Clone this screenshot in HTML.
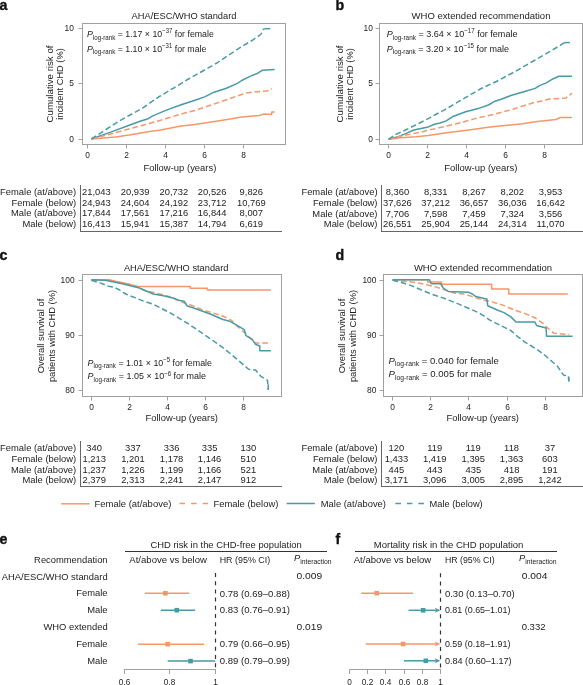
<!DOCTYPE html>
<html><head><meta charset="utf-8"><style>
html,body{margin:0;padding:0;background:#fff;}
svg{display:block;will-change:transform;font-family:"Liberation Sans", sans-serif;}
</style></head><body>
<svg width="583" height="685" viewBox="0 0 583 685">
<rect width="583" height="685" fill="#fff"/>
<text x="-0.60" y="10.00" font-size="14.2" text-anchor="start" fill="#111" font-weight="bold" stroke="#111" stroke-width="0.35">a</text>
<text x="335.50" y="10.00" font-size="14.2" text-anchor="start" fill="#111" font-weight="bold" stroke="#111" stroke-width="0.35">b</text>
<text x="-0.50" y="259.50" font-size="14.2" text-anchor="start" fill="#111" font-weight="bold" stroke="#111" stroke-width="0.35">c</text>
<text x="335.50" y="259.80" font-size="14.2" text-anchor="start" fill="#111" font-weight="bold" stroke="#111" stroke-width="0.35">d</text>
<text x="-0.50" y="543.60" font-size="14.2" text-anchor="start" fill="#111" font-weight="bold" stroke="#111" stroke-width="0.35">e</text>
<text x="335.50" y="543.60" font-size="14.2" text-anchor="start" fill="#111" font-weight="bold" stroke="#111" stroke-width="0.35">f</text>
<rect x="82.5" y="23.5" width="203" height="121" fill="none" stroke="#a0a0a0" stroke-width="1"/>
<text x="184.00" y="18.80" font-size="9.4" text-anchor="middle" fill="#222222" textLength="104.80" lengthAdjust="spacingAndGlyphs">AHA/ESC/WHO standard</text>
<line x1="87.50" y1="144.50" x2="87.50" y2="148.50" stroke="#a0a0a0" stroke-width="1"/>
<text x="87.50" y="157.80" font-size="8.4" text-anchor="middle" fill="#222222">0</text>
<line x1="126.50" y1="144.50" x2="126.50" y2="148.50" stroke="#a0a0a0" stroke-width="1"/>
<text x="126.50" y="157.80" font-size="8.4" text-anchor="middle" fill="#222222">2</text>
<line x1="165.50" y1="144.50" x2="165.50" y2="148.50" stroke="#a0a0a0" stroke-width="1"/>
<text x="165.50" y="157.80" font-size="8.4" text-anchor="middle" fill="#222222">4</text>
<line x1="204.50" y1="144.50" x2="204.50" y2="148.50" stroke="#a0a0a0" stroke-width="1"/>
<text x="204.50" y="157.80" font-size="8.4" text-anchor="middle" fill="#222222">6</text>
<line x1="243.50" y1="144.50" x2="243.50" y2="148.50" stroke="#a0a0a0" stroke-width="1"/>
<text x="243.50" y="157.80" font-size="8.4" text-anchor="middle" fill="#222222">8</text>
<line x1="78.50" y1="139.50" x2="82.50" y2="139.50" stroke="#a0a0a0" stroke-width="1"/>
<text x="73.90" y="141.60" font-size="8.4" text-anchor="end" fill="#222222">0</text>
<line x1="78.50" y1="83.50" x2="82.50" y2="83.50" stroke="#a0a0a0" stroke-width="1"/>
<text x="73.90" y="85.60" font-size="8.4" text-anchor="end" fill="#222222">5</text>
<line x1="78.50" y1="28.50" x2="82.50" y2="28.50" stroke="#a0a0a0" stroke-width="1"/>
<text x="73.90" y="30.60" font-size="8.4" text-anchor="end" fill="#222222">10</text>
<text x="179.90" y="171.00" font-size="9.4" text-anchor="middle" fill="#222222" textLength="73.00" lengthAdjust="spacingAndGlyphs">Follow-up (years)</text>
<text x="0" y="0" font-size="9.4" text-anchor="middle" fill="#222222" transform="translate(53.30,84.00) rotate(-90)" textLength="77.00" lengthAdjust="spacingAndGlyphs">Cumulative risk of</text>
<text x="0" y="0" font-size="9.4" text-anchor="middle" fill="#222222" transform="translate(63.30,84.00) rotate(-90)" textLength="71.50" lengthAdjust="spacingAndGlyphs">incident CHD (%)</text>
<polyline points="91.4,139.0 112.7,131.4 129.2,125.3 140.0,121.2 148.2,118.7 152.3,116.1 165.7,110.4 181.2,104.8 195.0,100.2 205.2,96.6 214.0,92.2 225.7,88.5 237.4,83.4 241.7,80.5 250.5,76.1 257.8,73.2 262.2,70.3 274.6,69.5" fill="none" stroke="#489aa5" stroke-width="1.5" stroke-linejoin="round"/>
<polyline points="91.4,139.0 115.4,136.9 129.2,134.9 149.7,131.4 160.6,130.0 181.2,125.9 195.0,124.6 224.2,119.9 241.7,117.0 259.3,115.5 263.6,114.1 271.7,114.4 271.7,111.9 274.6,111.9" fill="none" stroke="#f5976b" stroke-width="1.5" stroke-linejoin="round"/>
<polyline points="91.4,139.0 110.0,134.2 122.3,130.8 140.0,125.9 160.6,120.2 181.2,114.0 195.0,110.4 216.9,103.1 231.5,98.0 246.1,92.9 260.7,91.5 269.5,90.7 271.7,88.5" fill="none" stroke="#f5976b" stroke-width="1.5" stroke-linejoin="round" stroke-dasharray="5.6 2.9"/>
<polyline points="91.4,139.0 119.3,120.9 142.1,108.4 158.5,97.0 174.0,87.8 188.4,79.0 195.0,75.4 216.9,63.0 238.8,48.4 253.4,39.6 260.7,34.5 263.6,29.4 264.5,28.7" fill="none" stroke="#489aa5" stroke-width="1.5" stroke-linejoin="round" stroke-dasharray="5.6 2.9"/>
<polyline points="264.5,28.7 270.2,28.7" fill="none" stroke="#489aa5" stroke-width="1.5" stroke-linejoin="round"/>
<text x="87.10" y="37.00" font-size="9.4" fill="#222222" textLength="126.70" lengthAdjust="spacingAndGlyphs"><tspan font-style="italic">P</tspan><tspan font-size="6.6" dy="2.6">log-rank</tspan><tspan dy="-2.6"> = 1.17 × 10</tspan><tspan font-size="6.4" dy="-3.6">−37</tspan><tspan dy="3.6"> for female</tspan></text>
<text x="87.10" y="51.60" font-size="9.4" fill="#222222" textLength="119.30" lengthAdjust="spacingAndGlyphs"><tspan font-style="italic">P</tspan><tspan font-size="6.6" dy="2.6">log-rank</tspan><tspan dy="-2.6"> = 1.10 × 10</tspan><tspan font-size="6.4" dy="-3.6">−31</tspan><tspan dy="3.6"> for male</tspan></text>
<rect x="379.5" y="23.5" width="203" height="121" fill="none" stroke="#a0a0a0" stroke-width="1"/>
<text x="481.00" y="18.70" font-size="9.4" text-anchor="middle" fill="#222222" textLength="138.90" lengthAdjust="spacingAndGlyphs">WHO extended recommendation</text>
<line x1="388.50" y1="144.50" x2="388.50" y2="148.50" stroke="#a0a0a0" stroke-width="1"/>
<text x="388.50" y="157.80" font-size="8.4" text-anchor="middle" fill="#222222">0</text>
<line x1="427.50" y1="144.50" x2="427.50" y2="148.50" stroke="#a0a0a0" stroke-width="1"/>
<text x="427.50" y="157.80" font-size="8.4" text-anchor="middle" fill="#222222">2</text>
<line x1="466.50" y1="144.50" x2="466.50" y2="148.50" stroke="#a0a0a0" stroke-width="1"/>
<text x="466.50" y="157.80" font-size="8.4" text-anchor="middle" fill="#222222">4</text>
<line x1="505.50" y1="144.50" x2="505.50" y2="148.50" stroke="#a0a0a0" stroke-width="1"/>
<text x="505.50" y="157.80" font-size="8.4" text-anchor="middle" fill="#222222">6</text>
<line x1="544.50" y1="144.50" x2="544.50" y2="148.50" stroke="#a0a0a0" stroke-width="1"/>
<text x="544.50" y="157.80" font-size="8.4" text-anchor="middle" fill="#222222">8</text>
<line x1="375.50" y1="139.50" x2="379.50" y2="139.50" stroke="#a0a0a0" stroke-width="1"/>
<text x="372.90" y="141.60" font-size="8.4" text-anchor="end" fill="#222222">0</text>
<line x1="375.50" y1="83.50" x2="379.50" y2="83.50" stroke="#a0a0a0" stroke-width="1"/>
<text x="372.90" y="85.60" font-size="8.4" text-anchor="end" fill="#222222">5</text>
<line x1="375.50" y1="28.50" x2="379.50" y2="28.50" stroke="#a0a0a0" stroke-width="1"/>
<text x="372.90" y="30.60" font-size="8.4" text-anchor="end" fill="#222222">10</text>
<text x="480.80" y="170.80" font-size="9.4" text-anchor="middle" fill="#222222" textLength="73.00" lengthAdjust="spacingAndGlyphs">Follow-up (years)</text>
<text x="0" y="0" font-size="9.4" text-anchor="middle" fill="#222222" transform="translate(342.60,84.00) rotate(-90)" textLength="77.00" lengthAdjust="spacingAndGlyphs">Cumulative risk of</text>
<text x="0" y="0" font-size="9.4" text-anchor="middle" fill="#222222" transform="translate(352.60,84.00) rotate(-90)" textLength="71.50" lengthAdjust="spacingAndGlyphs">incident CHD (%)</text>
<polyline points="388.6,139.3 398.4,136.7 405.6,133.6 413.8,130.0 421.0,128.4 428.2,126.9 434.4,124.3 440.0,123.0 446.2,120.9 452.3,116.8 465.7,111.7 478.1,108.6 488.4,105.0 495.0,101.2 500.5,99.5 511.6,95.3 525.5,91.2 535.2,88.4 539.4,85.6 546.3,82.9 553.3,78.7 558.8,76.3 572.0,76.3" fill="none" stroke="#489aa5" stroke-width="1.5" stroke-linejoin="round"/>
<polyline points="388.6,139.3 400.4,137.7 415.9,136.7 428.2,135.6 445.0,133.1 470.9,129.7 486.3,127.6 495.0,126.5 522.7,123.8 535.2,121.7 556.0,119.6 560.2,117.5 572.0,117.5" fill="none" stroke="#f5976b" stroke-width="1.5" stroke-linejoin="round"/>
<polyline points="388.6,139.3 400.4,136.2 410.7,134.1 419.0,132.6 429.3,130.0 440.0,127.6 455.4,124.0 476.0,118.4 495.0,114.1 513.0,109.2 532.4,103.0 550.5,98.8 565.7,98.1 572.0,93.3" fill="none" stroke="#f5976b" stroke-width="1.5" stroke-linejoin="round" stroke-dasharray="5.6 2.9"/>
<polyline points="388.6,139.3 395.3,134.6 405.6,130.0 415.9,124.8 428.2,118.7 436.5,114.0 443.1,110.7 460.6,100.4 481.2,88.5 496.4,81.5 515.8,71.1 535.2,60.0 543.5,55.1 560.2,45.4 564.3,42.6" fill="none" stroke="#489aa5" stroke-width="1.5" stroke-linejoin="round" stroke-dasharray="5.6 2.9"/>
<polyline points="564.3,42.6 569.9,42.6" fill="none" stroke="#489aa5" stroke-width="1.5" stroke-linejoin="round"/>
<text x="386.80" y="37.00" font-size="9.4" fill="#222222" textLength="130.70" lengthAdjust="spacingAndGlyphs"><tspan font-style="italic">P</tspan><tspan font-size="6.6" dy="2.6">log-rank</tspan><tspan dy="-2.6"> = 3.64 × 10</tspan><tspan font-size="6.4" dy="-3.6">−17</tspan><tspan dy="3.6"> for female</tspan></text>
<text x="386.80" y="51.60" font-size="9.4" fill="#222222" textLength="122.20" lengthAdjust="spacingAndGlyphs"><tspan font-style="italic">P</tspan><tspan font-size="6.6" dy="2.6">log-rank</tspan><tspan dy="-2.6"> = 3.20 × 10</tspan><tspan font-size="6.4" dy="-3.6">−15</tspan><tspan dy="3.6"> for male</tspan></text>
<line x1="80.50" y1="185.00" x2="80.50" y2="232.00" stroke="#666" stroke-width="1"/>
<line x1="80.00" y1="231.50" x2="282.00" y2="231.50" stroke="#666" stroke-width="1"/>
<text x="76.20" y="195.10" font-size="9.4" text-anchor="end" fill="#222222">Female (at/above)</text>
<text x="96.40" y="195.10" font-size="9.4" text-anchor="middle" fill="#222222">21,043</text>
<text x="135.10" y="195.10" font-size="9.4" text-anchor="middle" fill="#222222">20,939</text>
<text x="173.80" y="195.10" font-size="9.4" text-anchor="middle" fill="#222222">20,732</text>
<text x="212.20" y="195.10" font-size="9.4" text-anchor="middle" fill="#222222">20,526</text>
<text x="251.30" y="195.10" font-size="9.4" text-anchor="middle" fill="#222222">9,826</text>
<text x="76.20" y="205.60" font-size="9.4" text-anchor="end" fill="#222222">Female (below)</text>
<text x="96.40" y="205.60" font-size="9.4" text-anchor="middle" fill="#222222">24,943</text>
<text x="135.10" y="205.60" font-size="9.4" text-anchor="middle" fill="#222222">24,604</text>
<text x="173.80" y="205.60" font-size="9.4" text-anchor="middle" fill="#222222">24,192</text>
<text x="212.20" y="205.60" font-size="9.4" text-anchor="middle" fill="#222222">23,712</text>
<text x="251.30" y="205.60" font-size="9.4" text-anchor="middle" fill="#222222">10,769</text>
<text x="76.20" y="216.20" font-size="9.4" text-anchor="end" fill="#222222">Male (at/above)</text>
<text x="96.40" y="216.20" font-size="9.4" text-anchor="middle" fill="#222222">17,844</text>
<text x="135.10" y="216.20" font-size="9.4" text-anchor="middle" fill="#222222">17,561</text>
<text x="173.80" y="216.20" font-size="9.4" text-anchor="middle" fill="#222222">17,216</text>
<text x="212.20" y="216.20" font-size="9.4" text-anchor="middle" fill="#222222">16,844</text>
<text x="251.30" y="216.20" font-size="9.4" text-anchor="middle" fill="#222222">8,007</text>
<text x="76.20" y="227.00" font-size="9.4" text-anchor="end" fill="#222222">Male (below)</text>
<text x="96.40" y="227.00" font-size="9.4" text-anchor="middle" fill="#222222">16,413</text>
<text x="135.10" y="227.00" font-size="9.4" text-anchor="middle" fill="#222222">15,941</text>
<text x="173.80" y="227.00" font-size="9.4" text-anchor="middle" fill="#222222">15,387</text>
<text x="212.20" y="227.00" font-size="9.4" text-anchor="middle" fill="#222222">14,794</text>
<text x="251.30" y="227.00" font-size="9.4" text-anchor="middle" fill="#222222">6,619</text>
<line x1="381.50" y1="185.00" x2="381.50" y2="232.00" stroke="#666" stroke-width="1"/>
<line x1="381.00" y1="231.50" x2="583.00" y2="231.50" stroke="#666" stroke-width="1"/>
<text x="377.50" y="195.00" font-size="9.4" text-anchor="end" fill="#222222">Female (at/above)</text>
<text x="397.40" y="195.00" font-size="9.4" text-anchor="middle" fill="#222222">8,360</text>
<text x="435.70" y="195.00" font-size="9.4" text-anchor="middle" fill="#222222">8,331</text>
<text x="474.00" y="195.00" font-size="9.4" text-anchor="middle" fill="#222222">8,267</text>
<text x="512.30" y="195.00" font-size="9.4" text-anchor="middle" fill="#222222">8,202</text>
<text x="550.60" y="195.00" font-size="9.4" text-anchor="middle" fill="#222222">3,953</text>
<text x="377.50" y="205.80" font-size="9.4" text-anchor="end" fill="#222222">Female (below)</text>
<text x="397.40" y="205.80" font-size="9.4" text-anchor="middle" fill="#222222">37,626</text>
<text x="435.70" y="205.80" font-size="9.4" text-anchor="middle" fill="#222222">37,212</text>
<text x="474.00" y="205.80" font-size="9.4" text-anchor="middle" fill="#222222">36,657</text>
<text x="512.30" y="205.80" font-size="9.4" text-anchor="middle" fill="#222222">36,036</text>
<text x="550.60" y="205.80" font-size="9.4" text-anchor="middle" fill="#222222">16,642</text>
<text x="377.50" y="216.60" font-size="9.4" text-anchor="end" fill="#222222">Male (at/above)</text>
<text x="397.40" y="216.60" font-size="9.4" text-anchor="middle" fill="#222222">7,706</text>
<text x="435.70" y="216.60" font-size="9.4" text-anchor="middle" fill="#222222">7,598</text>
<text x="474.00" y="216.60" font-size="9.4" text-anchor="middle" fill="#222222">7,459</text>
<text x="512.30" y="216.60" font-size="9.4" text-anchor="middle" fill="#222222">7,324</text>
<text x="550.60" y="216.60" font-size="9.4" text-anchor="middle" fill="#222222">3,556</text>
<text x="377.50" y="227.30" font-size="9.4" text-anchor="end" fill="#222222">Male (below)</text>
<text x="397.40" y="227.30" font-size="9.4" text-anchor="middle" fill="#222222">26,551</text>
<text x="435.70" y="227.30" font-size="9.4" text-anchor="middle" fill="#222222">25,904</text>
<text x="474.00" y="227.30" font-size="9.4" text-anchor="middle" fill="#222222">25,144</text>
<text x="512.30" y="227.30" font-size="9.4" text-anchor="middle" fill="#222222">24,314</text>
<text x="550.60" y="227.30" font-size="9.4" text-anchor="middle" fill="#222222">11,070</text>
<line x1="80.50" y1="441.00" x2="80.50" y2="487.00" stroke="#666" stroke-width="1"/>
<line x1="80.00" y1="486.50" x2="282.00" y2="486.50" stroke="#666" stroke-width="1"/>
<text x="76.20" y="451.30" font-size="9.4" text-anchor="end" fill="#222222">Female (at/above)</text>
<text x="94.20" y="451.30" font-size="9.4" text-anchor="middle" fill="#222222">340</text>
<text x="132.90" y="451.30" font-size="9.4" text-anchor="middle" fill="#222222">337</text>
<text x="171.60" y="451.30" font-size="9.4" text-anchor="middle" fill="#222222">336</text>
<text x="209.60" y="451.30" font-size="9.4" text-anchor="middle" fill="#222222">335</text>
<text x="248.30" y="451.30" font-size="9.4" text-anchor="middle" fill="#222222">130</text>
<text x="76.20" y="461.80" font-size="9.4" text-anchor="end" fill="#222222">Female (below)</text>
<text x="94.20" y="461.80" font-size="9.4" text-anchor="middle" fill="#222222">1,213</text>
<text x="132.90" y="461.80" font-size="9.4" text-anchor="middle" fill="#222222">1,201</text>
<text x="171.60" y="461.80" font-size="9.4" text-anchor="middle" fill="#222222">1,178</text>
<text x="209.60" y="461.80" font-size="9.4" text-anchor="middle" fill="#222222">1,146</text>
<text x="248.30" y="461.80" font-size="9.4" text-anchor="middle" fill="#222222">510</text>
<text x="76.20" y="472.50" font-size="9.4" text-anchor="end" fill="#222222">Male (at/above)</text>
<text x="94.20" y="472.50" font-size="9.4" text-anchor="middle" fill="#222222">1,237</text>
<text x="132.90" y="472.50" font-size="9.4" text-anchor="middle" fill="#222222">1,226</text>
<text x="171.60" y="472.50" font-size="9.4" text-anchor="middle" fill="#222222">1,199</text>
<text x="209.60" y="472.50" font-size="9.4" text-anchor="middle" fill="#222222">1,166</text>
<text x="248.30" y="472.50" font-size="9.4" text-anchor="middle" fill="#222222">521</text>
<text x="76.20" y="483.00" font-size="9.4" text-anchor="end" fill="#222222">Male (below)</text>
<text x="94.20" y="483.00" font-size="9.4" text-anchor="middle" fill="#222222">2,379</text>
<text x="132.90" y="483.00" font-size="9.4" text-anchor="middle" fill="#222222">2,313</text>
<text x="171.60" y="483.00" font-size="9.4" text-anchor="middle" fill="#222222">2,241</text>
<text x="209.60" y="483.00" font-size="9.4" text-anchor="middle" fill="#222222">2,147</text>
<text x="248.30" y="483.00" font-size="9.4" text-anchor="middle" fill="#222222">912</text>
<line x1="381.50" y1="441.00" x2="381.50" y2="487.00" stroke="#666" stroke-width="1"/>
<line x1="381.00" y1="486.50" x2="583.00" y2="486.50" stroke="#666" stroke-width="1"/>
<text x="377.50" y="451.00" font-size="9.4" text-anchor="end" fill="#222222">Female (at/above)</text>
<text x="396.40" y="451.00" font-size="9.4" text-anchor="middle" fill="#222222">120</text>
<text x="434.70" y="451.00" font-size="9.4" text-anchor="middle" fill="#222222">119</text>
<text x="473.30" y="451.00" font-size="9.4" text-anchor="middle" fill="#222222">119</text>
<text x="511.60" y="451.00" font-size="9.4" text-anchor="middle" fill="#222222">118</text>
<text x="549.90" y="451.00" font-size="9.4" text-anchor="middle" fill="#222222">37</text>
<text x="377.50" y="461.90" font-size="9.4" text-anchor="end" fill="#222222">Female (below)</text>
<text x="396.40" y="461.90" font-size="9.4" text-anchor="middle" fill="#222222">1,433</text>
<text x="434.70" y="461.90" font-size="9.4" text-anchor="middle" fill="#222222">1,419</text>
<text x="473.30" y="461.90" font-size="9.4" text-anchor="middle" fill="#222222">1,395</text>
<text x="511.60" y="461.90" font-size="9.4" text-anchor="middle" fill="#222222">1,363</text>
<text x="549.90" y="461.90" font-size="9.4" text-anchor="middle" fill="#222222">603</text>
<text x="377.50" y="472.70" font-size="9.4" text-anchor="end" fill="#222222">Male (at/above)</text>
<text x="396.40" y="472.70" font-size="9.4" text-anchor="middle" fill="#222222">445</text>
<text x="434.70" y="472.70" font-size="9.4" text-anchor="middle" fill="#222222">443</text>
<text x="473.30" y="472.70" font-size="9.4" text-anchor="middle" fill="#222222">435</text>
<text x="511.60" y="472.70" font-size="9.4" text-anchor="middle" fill="#222222">418</text>
<text x="549.90" y="472.70" font-size="9.4" text-anchor="middle" fill="#222222">191</text>
<text x="377.50" y="483.30" font-size="9.4" text-anchor="end" fill="#222222">Male (below)</text>
<text x="396.40" y="483.30" font-size="9.4" text-anchor="middle" fill="#222222">3,171</text>
<text x="434.70" y="483.30" font-size="9.4" text-anchor="middle" fill="#222222">3,096</text>
<text x="473.30" y="483.30" font-size="9.4" text-anchor="middle" fill="#222222">3,005</text>
<text x="511.60" y="483.30" font-size="9.4" text-anchor="middle" fill="#222222">2,895</text>
<text x="549.90" y="483.30" font-size="9.4" text-anchor="middle" fill="#222222">1,242</text>
<rect x="82.5" y="274.5" width="199" height="122" fill="none" stroke="#a0a0a0" stroke-width="1"/>
<text x="176.20" y="271.30" font-size="9.4" text-anchor="middle" fill="#222222" textLength="104.50" lengthAdjust="spacingAndGlyphs">AHA/ESC/WHO standard</text>
<line x1="91.50" y1="396.50" x2="91.50" y2="400.50" stroke="#a0a0a0" stroke-width="1"/>
<text x="91.50" y="409.90" font-size="8.4" text-anchor="middle" fill="#222222">0</text>
<line x1="129.50" y1="396.50" x2="129.50" y2="400.50" stroke="#a0a0a0" stroke-width="1"/>
<text x="129.50" y="409.90" font-size="8.4" text-anchor="middle" fill="#222222">2</text>
<line x1="167.50" y1="396.50" x2="167.50" y2="400.50" stroke="#a0a0a0" stroke-width="1"/>
<text x="167.50" y="409.90" font-size="8.4" text-anchor="middle" fill="#222222">4</text>
<line x1="205.50" y1="396.50" x2="205.50" y2="400.50" stroke="#a0a0a0" stroke-width="1"/>
<text x="205.50" y="409.90" font-size="8.4" text-anchor="middle" fill="#222222">6</text>
<line x1="243.50" y1="396.50" x2="243.50" y2="400.50" stroke="#a0a0a0" stroke-width="1"/>
<text x="243.50" y="409.90" font-size="8.4" text-anchor="middle" fill="#222222">8</text>
<line x1="78.50" y1="390.50" x2="82.50" y2="390.50" stroke="#a0a0a0" stroke-width="1"/>
<text x="74.60" y="392.60" font-size="8.4" text-anchor="end" fill="#222222">80</text>
<line x1="78.50" y1="335.50" x2="82.50" y2="335.50" stroke="#a0a0a0" stroke-width="1"/>
<text x="74.60" y="337.60" font-size="8.4" text-anchor="end" fill="#222222">90</text>
<line x1="78.50" y1="280.50" x2="82.50" y2="280.50" stroke="#a0a0a0" stroke-width="1"/>
<text x="74.60" y="282.60" font-size="8.4" text-anchor="end" fill="#222222">100</text>
<text x="181.80" y="420.90" font-size="9.4" text-anchor="middle" fill="#222222" textLength="72.40" lengthAdjust="spacingAndGlyphs">Follow-up (years)</text>
<text x="0" y="0" font-size="9.4" text-anchor="middle" fill="#222222" transform="translate(44.40,336.00) rotate(-90)">Overall survival of</text>
<text x="0" y="0" font-size="9.4" text-anchor="middle" fill="#222222" transform="translate(54.70,336.00) rotate(-90)">patients with CHD (%)</text>
<polyline points="91.4,279.8 108.6,279.8 130.9,284.6 137.7,286.5 190.3,286.5 190.3,288.2 207.4,288.2 207.4,289.9 270.9,289.9" fill="none" stroke="#f5976b" stroke-width="1.5" stroke-linejoin="round"/>
<polyline points="91.4,280.3 108.6,280.0 122.3,282.9 134.3,285.4 144.6,290.6 161.8,294.5 170.3,296.9 180.6,301.7 190.3,304.9 205.7,310.9 222.9,316.0 231.5,320.3 238.3,327.2 245.2,333.2 252.0,340.0 255.5,343.1 270.9,343.1" fill="none" stroke="#f5976b" stroke-width="1.5" stroke-linejoin="round" stroke-dasharray="5.6 2.9"/>
<polyline points="91.4,279.8 105.2,280.3 122.3,283.7 139.5,288.0 153.2,294.0 163.5,295.7 173.8,298.3 180.0,300.6 184.1,301.2 186.9,305.7 197.2,309.2 210.9,314.3 222.9,319.5 229.7,321.2 240.0,327.2 244.3,329.7 246.0,335.7 252.0,339.2 255.5,344.3 259.8,346.0 259.8,350.7 270.9,350.7" fill="none" stroke="#489aa5" stroke-width="1.5" stroke-linejoin="round"/>
<polyline points="91.4,280.3 100.0,282.9 108.6,286.3 113.7,287.1 118.9,289.7 125.7,294.0 134.3,297.4 142.9,300.9 153.2,304.3 161.8,308.6 170.3,312.9 177.2,317.2 188.0,323.5 197.2,329.7 210.9,339.2 219.5,345.2 226.3,350.3 236.6,358.9 243.5,364.9 248.6,369.2 255.5,370.0 260.6,376.1 267.5,380.3 268.3,389.8" fill="none" stroke="#489aa5" stroke-width="1.5" stroke-linejoin="round" stroke-dasharray="5.6 2.9"/>
<polyline points="268.3,384.5 268.3,389.8" fill="none" stroke="#489aa5" stroke-width="1.5" stroke-linejoin="round"/>
<text x="87.50" y="365.80" font-size="9.4" fill="#222222" textLength="124.50" lengthAdjust="spacingAndGlyphs"><tspan font-style="italic">P</tspan><tspan font-size="6.6" dy="2.6">log-rank</tspan><tspan dy="-2.6"> = 1.01 × 10</tspan><tspan font-size="6.4" dy="-3.6">−5</tspan><tspan dy="3.6"> for female</tspan></text>
<text x="87.50" y="379.10" font-size="9.4" fill="#222222" textLength="118.50" lengthAdjust="spacingAndGlyphs"><tspan font-style="italic">P</tspan><tspan font-size="6.6" dy="2.6">log-rank</tspan><tspan dy="-2.6"> = 1.05 × 10</tspan><tspan font-size="6.4" dy="-3.6">−6</tspan><tspan dy="3.6"> for male</tspan></text>
<rect x="383.5" y="274.5" width="199" height="122" fill="none" stroke="#a0a0a0" stroke-width="1"/>
<text x="483.00" y="271.30" font-size="9.4" text-anchor="middle" fill="#222222" textLength="138.20" lengthAdjust="spacingAndGlyphs">WHO extended recommendation</text>
<line x1="392.50" y1="396.50" x2="392.50" y2="400.50" stroke="#a0a0a0" stroke-width="1"/>
<text x="392.50" y="409.90" font-size="8.4" text-anchor="middle" fill="#222222">0</text>
<line x1="430.50" y1="396.50" x2="430.50" y2="400.50" stroke="#a0a0a0" stroke-width="1"/>
<text x="430.50" y="409.90" font-size="8.4" text-anchor="middle" fill="#222222">2</text>
<line x1="468.50" y1="396.50" x2="468.50" y2="400.50" stroke="#a0a0a0" stroke-width="1"/>
<text x="468.50" y="409.90" font-size="8.4" text-anchor="middle" fill="#222222">4</text>
<line x1="507.50" y1="396.50" x2="507.50" y2="400.50" stroke="#a0a0a0" stroke-width="1"/>
<text x="507.50" y="409.90" font-size="8.4" text-anchor="middle" fill="#222222">6</text>
<line x1="545.50" y1="396.50" x2="545.50" y2="400.50" stroke="#a0a0a0" stroke-width="1"/>
<text x="545.50" y="409.90" font-size="8.4" text-anchor="middle" fill="#222222">8</text>
<line x1="379.50" y1="390.50" x2="383.50" y2="390.50" stroke="#a0a0a0" stroke-width="1"/>
<text x="376.40" y="392.60" font-size="8.4" text-anchor="end" fill="#222222">80</text>
<line x1="379.50" y1="335.50" x2="383.50" y2="335.50" stroke="#a0a0a0" stroke-width="1"/>
<text x="376.40" y="337.60" font-size="8.4" text-anchor="end" fill="#222222">90</text>
<line x1="379.50" y1="280.50" x2="383.50" y2="280.50" stroke="#a0a0a0" stroke-width="1"/>
<text x="376.40" y="282.60" font-size="8.4" text-anchor="end" fill="#222222">100</text>
<text x="482.80" y="420.90" font-size="9.4" text-anchor="middle" fill="#222222" textLength="72.40" lengthAdjust="spacingAndGlyphs">Follow-up (years)</text>
<text x="0" y="0" font-size="9.4" text-anchor="middle" fill="#222222" transform="translate(345.40,336.00) rotate(-90)">Overall survival of</text>
<text x="0" y="0" font-size="9.4" text-anchor="middle" fill="#222222" transform="translate(355.60,336.00) rotate(-90)">patients with CHD (%)</text>
<polyline points="392.6,279.8 427.7,279.8 427.7,282.0 441.5,282.0 441.5,284.3 491.7,284.3 491.7,288.9 508.8,288.9 508.8,294.1 567.8,294.1" fill="none" stroke="#f5976b" stroke-width="1.5" stroke-linejoin="round"/>
<polyline points="392.6,280.3 407.2,281.5 415.7,282.5 426.0,284.6 436.3,287.1 446.6,290.6 455.2,293.2 463.8,294.0 472.3,296.6 482.6,300.0 490.3,301.4 502.3,304.9 514.3,310.0 524.6,313.4 534.9,317.7 543.5,323.7 548.6,328.9 553.8,333.2 569.2,334.5" fill="none" stroke="#f5976b" stroke-width="1.5" stroke-linejoin="round" stroke-dasharray="5.6 2.9"/>
<polyline points="392.6,279.8 429.5,279.8 431.2,283.7 440.6,283.7 443.2,288.0 448.3,291.4 468.9,292.3 472.3,294.0 475.8,296.6 484.3,298.5 486.9,298.9 487.7,305.7 497.2,310.0 504.0,312.6 510.9,316.9 516.0,322.0 534.9,322.0 536.6,325.5 546.0,328.0 546.6,336.3 572.6,336.3" fill="none" stroke="#489aa5" stroke-width="1.5" stroke-linejoin="round"/>
<polyline points="392.6,280.3 400.3,282.0 410.6,285.4 420.9,289.7 431.2,294.0 441.5,297.4 455.2,302.6 467.2,307.7 479.2,312.9 490.3,320.3 500.6,325.5 510.9,330.6 517.7,336.6 524.6,341.8 531.5,346.0 538.3,350.3 545.2,355.5 552.0,361.5 557.2,365.8 562.3,373.5 564.0,375.2 568.3,376.1 568.8,381.2" fill="none" stroke="#489aa5" stroke-width="1.5" stroke-linejoin="round" stroke-dasharray="5.6 2.9"/>
<polyline points="568.8,376.5 568.8,381.5" fill="none" stroke="#489aa5" stroke-width="1.5" stroke-linejoin="round"/>
<text x="388.60" y="363.70" font-size="9.4" fill="#222222" textLength="110.10" lengthAdjust="spacingAndGlyphs"><tspan font-style="italic">P</tspan><tspan font-size="6.6" dy="2.6">log-rank</tspan><tspan dy="-2.6"> = 0.040 for female</tspan></text>
<text x="388.60" y="376.90" font-size="9.4" fill="#222222" textLength="102.90" lengthAdjust="spacingAndGlyphs"><tspan font-style="italic">P</tspan><tspan font-size="6.6" dy="2.6">log-rank</tspan><tspan dy="-2.6"> = 0.005 for male</tspan></text>
<line x1="61.20" y1="503.80" x2="89.60" y2="503.80" stroke="#f5976b" stroke-width="1.5"/>
<text x="94.50" y="506.80" font-size="9.4" text-anchor="start" fill="#222222" textLength="76.80" lengthAdjust="spacingAndGlyphs">Female (at/above)</text>
<line x1="179.60" y1="503.50" x2="208.40" y2="503.50" stroke="#f5976b" stroke-width="1.5" stroke-dasharray="5.5 6"/>
<text x="213.40" y="506.80" font-size="9.4" text-anchor="start" fill="#222222" textLength="65.00" lengthAdjust="spacingAndGlyphs">Female (below)</text>
<line x1="286.60" y1="503.50" x2="314.90" y2="503.50" stroke="#489aa5" stroke-width="1.5"/>
<text x="320.80" y="506.80" font-size="9.4" text-anchor="start" fill="#222222" textLength="65.10" lengthAdjust="spacingAndGlyphs">Male (at/above)</text>
<line x1="395.40" y1="503.50" x2="424.10" y2="503.50" stroke="#489aa5" stroke-width="1.5" stroke-dasharray="5.5 6"/>
<text x="429.60" y="506.80" font-size="9.4" text-anchor="start" fill="#222222" textLength="53.10" lengthAdjust="spacingAndGlyphs">Male (below)</text>
<text x="107.60" y="562.70" font-size="9.4" text-anchor="end" fill="#222222">Recommendation</text>
<text x="107.60" y="579.50" font-size="9.4" text-anchor="end" fill="#222222">AHA/ESC/WHO standard</text>
<text x="107.60" y="596.40" font-size="9.4" text-anchor="end" fill="#222222">Female</text>
<text x="107.60" y="613.20" font-size="9.4" text-anchor="end" fill="#222222">Male</text>
<text x="107.60" y="630.00" font-size="9.4" text-anchor="end" fill="#222222">WHO extended</text>
<text x="107.60" y="646.90" font-size="9.4" text-anchor="end" fill="#222222">Female</text>
<text x="107.60" y="663.80" font-size="9.4" text-anchor="end" fill="#222222">Male</text>
<line x1="125.00" y1="551.50" x2="327.00" y2="551.50" stroke="#333" stroke-width="1"/>
<text x="150.50" y="547.60" font-size="9.4" text-anchor="start" fill="#222222" textLength="151.20" lengthAdjust="spacingAndGlyphs">CHD risk in the CHD-free population</text>
<text x="129.30" y="562.60" font-size="9.4" text-anchor="start" fill="#222222" textLength="77.70" lengthAdjust="spacingAndGlyphs">At/above vs below</text>
<text x="219.70" y="562.70" font-size="9.4" text-anchor="start" fill="#222222" textLength="50.50" lengthAdjust="spacingAndGlyphs">HR (95% CI)</text>
<text x="294.00" y="561.20" font-size="9.4" fill="#222222"><tspan font-style="italic">P</tspan><tspan font-size="6.8" dy="2.3">interaction</tspan></text>
<text x="296.50" y="579.20" font-size="9.4" text-anchor="start" fill="#222222" textLength="25.70" lengthAdjust="spacingAndGlyphs">0.009</text>
<text x="296.50" y="630.30" font-size="9.4" text-anchor="start" fill="#222222" textLength="25.70" lengthAdjust="spacingAndGlyphs">0.019</text>
<line x1="215.50" y1="573.00" x2="215.50" y2="669.50" stroke="#333" stroke-width="1.2" stroke-dasharray="4 4.2"/>
<line x1="124.00" y1="669.50" x2="216.00" y2="669.50" stroke="#a0a0a0" stroke-width="1"/>
<line x1="124.50" y1="669.50" x2="124.50" y2="674.00" stroke="#a0a0a0" stroke-width="1"/>
<text x="124.50" y="684.50" font-size="8.2" text-anchor="middle" fill="#222222">0.6</text>
<line x1="169.50" y1="669.50" x2="169.50" y2="674.00" stroke="#a0a0a0" stroke-width="1"/>
<text x="169.50" y="684.50" font-size="8.2" text-anchor="middle" fill="#222222">0.8</text>
<line x1="215.50" y1="669.50" x2="215.50" y2="674.00" stroke="#a0a0a0" stroke-width="1"/>
<text x="215.50" y="684.50" font-size="8.2" text-anchor="middle" fill="#222222">1</text>
<line x1="144.79" y1="593.30" x2="189.25" y2="593.30" stroke="#f5976b" stroke-width="1.5"/>
<rect x="163.07" y="591.00" width="4.6" height="4.6" fill="#f5976b"/>
<line x1="160.80" y1="610.20" x2="195.11" y2="610.20" stroke="#489aa5" stroke-width="1.5"/>
<rect x="174.51" y="607.90" width="4.6" height="4.6" fill="#489aa5"/>
<line x1="137.93" y1="644.20" x2="204.26" y2="644.20" stroke="#f5976b" stroke-width="1.5"/>
<rect x="165.36" y="641.90" width="4.6" height="4.6" fill="#f5976b"/>
<line x1="167.66" y1="661.10" x2="215.30" y2="661.10" stroke="#489aa5" stroke-width="1.5"/>
<rect x="188.24" y="658.80" width="4.6" height="4.6" fill="#489aa5"/>
<text x="219.80" y="596.60" font-size="9.4" text-anchor="start" fill="#222222" textLength="70.10" lengthAdjust="spacingAndGlyphs">0.78 (0.69–0.88)</text>
<text x="219.80" y="613.40" font-size="9.4" text-anchor="start" fill="#222222" textLength="70.10" lengthAdjust="spacingAndGlyphs">0.83 (0.76–0.91)</text>
<text x="219.80" y="646.60" font-size="9.4" text-anchor="start" fill="#222222" textLength="70.10" lengthAdjust="spacingAndGlyphs">0.79 (0.66–0.95)</text>
<text x="219.80" y="663.50" font-size="9.4" text-anchor="start" fill="#222222" textLength="70.10" lengthAdjust="spacingAndGlyphs">0.89 (0.79–0.99)</text>
<line x1="355.00" y1="551.50" x2="557.00" y2="551.50" stroke="#333" stroke-width="1"/>
<text x="373.70" y="547.60" font-size="9.4" text-anchor="start" fill="#222222" textLength="149.70" lengthAdjust="spacingAndGlyphs">Mortality risk in the CHD population</text>
<text x="353.70" y="562.80" font-size="9.4" text-anchor="start" fill="#222222" textLength="77.60" lengthAdjust="spacingAndGlyphs">At/above vs below</text>
<text x="444.90" y="562.70" font-size="9.4" text-anchor="start" fill="#222222" textLength="49.80" lengthAdjust="spacingAndGlyphs">HR (95% CI)</text>
<text x="519.00" y="561.20" font-size="9.4" fill="#222222"><tspan font-style="italic">P</tspan><tspan font-size="6.8" dy="2.3">interaction</tspan></text>
<text x="521.70" y="579.20" font-size="9.4" text-anchor="start" fill="#222222" textLength="25.70" lengthAdjust="spacingAndGlyphs">0.004</text>
<text x="521.70" y="630.30" font-size="9.4" text-anchor="start" fill="#222222" textLength="23.80" lengthAdjust="spacingAndGlyphs">0.332</text>
<line x1="440.50" y1="573.20" x2="440.50" y2="669.50" stroke="#333" stroke-width="1.2" stroke-dasharray="4 4.2"/>
<line x1="349.00" y1="669.50" x2="441.00" y2="669.50" stroke="#a0a0a0" stroke-width="1"/>
<line x1="349.50" y1="669.50" x2="349.50" y2="674.00" stroke="#a0a0a0" stroke-width="1"/>
<text x="349.50" y="684.50" font-size="8.2" text-anchor="middle" fill="#222222">0</text>
<line x1="367.50" y1="669.50" x2="367.50" y2="674.00" stroke="#a0a0a0" stroke-width="1"/>
<text x="367.50" y="684.50" font-size="8.2" text-anchor="middle" fill="#222222">0.2</text>
<line x1="385.50" y1="669.50" x2="385.50" y2="674.00" stroke="#a0a0a0" stroke-width="1"/>
<text x="385.50" y="684.50" font-size="8.2" text-anchor="middle" fill="#222222">0.4</text>
<line x1="404.50" y1="669.50" x2="404.50" y2="674.00" stroke="#a0a0a0" stroke-width="1"/>
<text x="404.50" y="684.50" font-size="8.2" text-anchor="middle" fill="#222222">0.6</text>
<line x1="422.50" y1="669.50" x2="422.50" y2="674.00" stroke="#a0a0a0" stroke-width="1"/>
<text x="422.50" y="684.50" font-size="8.2" text-anchor="middle" fill="#222222">0.8</text>
<line x1="440.50" y1="669.50" x2="440.50" y2="674.00" stroke="#a0a0a0" stroke-width="1"/>
<text x="440.50" y="684.50" font-size="8.2" text-anchor="middle" fill="#222222">1</text>
<line x1="361.23" y1="593.20" x2="413.10" y2="593.20" stroke="#f5976b" stroke-width="1.5"/>
<rect x="374.40" y="590.90" width="4.6" height="4.6" fill="#f5976b"/>
<line x1="408.55" y1="610.30" x2="435.80" y2="610.30" stroke="#489aa5" stroke-width="1.5"/>
<path d="M440.30,610.30 L434.90,607.80 L436.00,610.30 L434.90,612.80 Z" fill="#489aa5"/>
<rect x="420.81" y="608.00" width="4.6" height="4.6" fill="#489aa5"/>
<line x1="365.78" y1="644.00" x2="435.80" y2="644.00" stroke="#f5976b" stroke-width="1.5"/>
<path d="M440.30,644.00 L434.90,641.50 L436.00,644.00 L434.90,646.50 Z" fill="#f5976b"/>
<rect x="400.79" y="641.70" width="4.6" height="4.6" fill="#f5976b"/>
<line x1="404.00" y1="660.80" x2="435.80" y2="660.80" stroke="#489aa5" stroke-width="1.5"/>
<path d="M440.30,660.80 L434.90,658.30 L436.00,660.80 L434.90,663.30 Z" fill="#489aa5"/>
<rect x="423.54" y="658.50" width="4.6" height="4.6" fill="#489aa5"/>
<text x="444.90" y="596.60" font-size="9.4" text-anchor="start" fill="#222222" textLength="69.90" lengthAdjust="spacingAndGlyphs">0.30 (0.13–0.70)</text>
<text x="444.90" y="613.40" font-size="9.4" text-anchor="start" fill="#222222" textLength="65.50" lengthAdjust="spacingAndGlyphs">0.81 (0.65–1.01)</text>
<text x="444.90" y="647.20" font-size="9.4" text-anchor="start" fill="#222222" textLength="65.50" lengthAdjust="spacingAndGlyphs">0.59 (0.18–1.91)</text>
<text x="444.90" y="663.90" font-size="9.4" text-anchor="start" fill="#222222" textLength="66.70" lengthAdjust="spacingAndGlyphs">0.84 (0.60–1.17)</text>
</svg></body></html>
